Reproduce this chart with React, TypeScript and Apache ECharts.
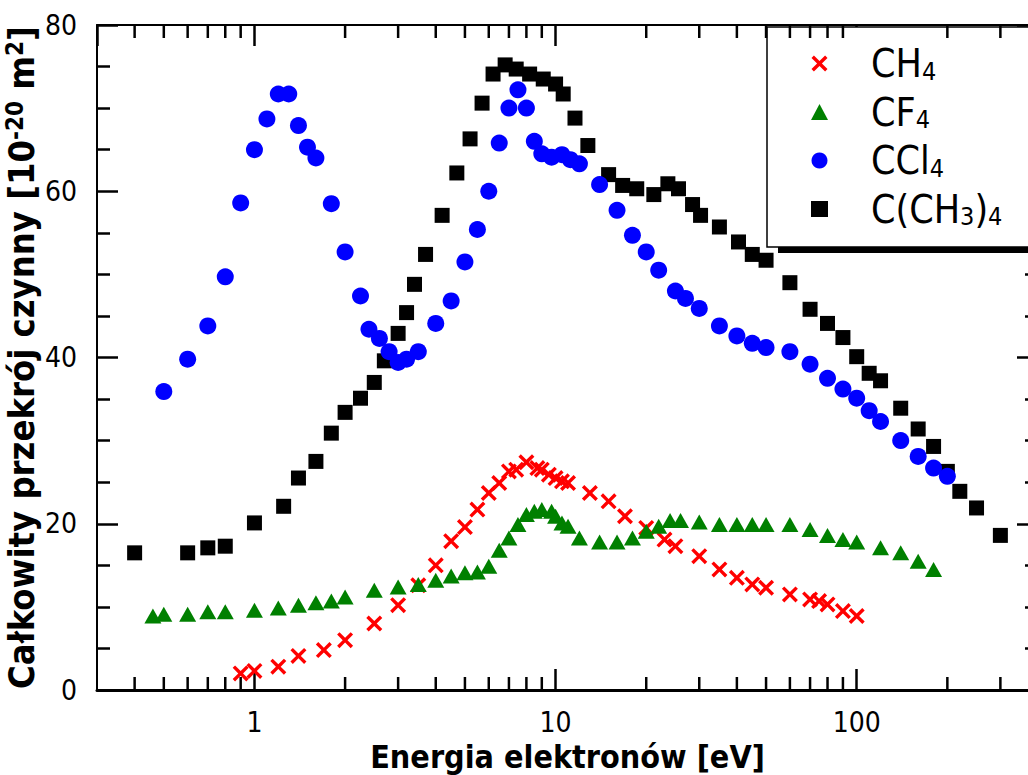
import React, { useEffect, useRef } from 'react';
import * as echarts from 'echarts';

const FONT = "'DejaVu Sans Condensed', 'DejaVu Sans', sans-serif";

// Series names (legend order)
const seriesNames = ['CH4', 'CF4', 'CCl4', 'C(CH3)4'];
const legendRich: Record<string, string> = {
  'CH4': '{p| }{m|CH}{s|4}',
  'CF4': '{p| }{m|CF}{s|4}',
  'CCl4': '{p| }{m|CCl}{s|4}',
  'C(CH3)4': '{p| }{m|C(CH}{s|3}{m|)}{s|4}',
};

// Axis tick values
const xMinorTicks = [0.4, 0.5, 0.6, 0.7, 0.8, 0.9, 2, 3, 4, 5, 6, 7, 8, 9, 20, 30, 40, 50, 60, 70, 80, 90, 200, 300];
const xMajorTicks = [1, 10, 100];
const yBottom = 0;
const yTop = 80;

// CH4
const ch4E = [0.9, 1.0, 1.2, 1.4, 1.7, 2.0, 2.5, 3.0, 3.5, 4.0, 4.5, 5.0, 5.5, 6.0, 6.5, 7.0, 7.4, 8.0, 8.7, 9.0, 9.5, 10, 10.5, 11, 13, 15, 17, 20, 23, 25, 30, 35, 40, 45, 50, 60, 70, 75, 80, 90, 100];
const ch4S = [2.0, 2.3, 2.8, 4.1, 4.8, 6.0, 8.0, 10.2, 12.6, 15.0, 17.9, 19.6, 21.7, 23.7, 24.9, 26.3, 26.5, 27.4, 26.7, 26.5, 25.9, 25.5, 25.1, 24.9, 23.7, 22.7, 20.9, 19.5, 18.1, 17.3, 16.1, 14.5, 13.5, 12.7, 12.3, 11.5, 10.9, 10.7, 10.3, 9.5, 8.9];

// CF4
const cf4E = [0.46, 0.5, 0.6, 0.7, 0.8, 1.0, 1.2, 1.4, 1.6, 1.8, 2.0, 2.5, 3.0, 3.5, 4.0, 4.5, 5.0, 5.5, 6.0, 6.5, 7.0, 7.5, 8.0, 8.5, 9.0, 9.7, 10, 10.5, 11, 12, 14, 16, 18, 20, 22, 24, 26, 30, 35, 40, 45, 50, 60, 70, 80, 90, 100, 120, 140, 160, 180];
const cf4S = [8.9, 9.1, 9.1, 9.4, 9.4, 9.6, 9.85, 10.2, 10.5, 10.7, 11.2, 12.0, 12.4, 12.7, 13.2, 13.7, 14.1, 14.2, 14.9, 16.8, 18.3, 19.9, 21.1, 21.5, 21.7, 21.5, 20.9, 20.1, 19.7, 18.3, 17.8, 17.8, 18.3, 19.1, 19.7, 20.4, 20.4, 20.2, 19.9, 19.9, 19.9, 19.9, 19.9, 19.3, 18.6, 18.1, 17.8, 17.1, 16.5, 15.5, 14.5];

// CCl4
const ccl4E = [0.5, 0.6, 0.7, 0.8, 0.9, 1.0, 1.1, 1.2, 1.3, 1.4, 1.5, 1.6, 1.8, 2.0, 2.25, 2.4, 2.6, 2.8, 3.0, 3.2, 3.5, 4.0, 4.5, 5.0, 5.5, 6.0, 6.5, 7.0, 7.5, 8.0, 8.5, 9.0, 9.7, 10.5, 11.2, 12, 14, 16, 18, 20, 22, 25, 27, 30, 35, 40, 45, 50, 60, 70, 80, 90, 100, 110, 120, 140, 160, 180, 200];
const ccl4S = [35.9, 39.8, 43.8, 49.7, 58.6, 65.0, 68.7, 71.7, 71.7, 67.9, 65.3, 64.0, 58.5, 52.7, 47.4, 43.4, 42.3, 40.7, 39.4, 39.8, 40.7, 44.1, 46.8, 51.5, 55.4, 60.0, 65.8, 70.0, 72.2, 70.0, 66.0, 64.5, 64.1, 64.4, 63.8, 63.3, 60.8, 57.7, 54.7, 52.7, 50.5, 48.0, 47.1, 45.9, 43.8, 42.6, 41.7, 41.2, 40.7, 39.2, 37.5, 36.2, 35.1, 33.6, 32.3, 30.0, 28.1, 26.7, 25.7];

// C(CH3)4
const neoE = [0.4, 0.6, 0.7, 0.8, 1.0, 1.25, 1.4, 1.6, 1.8, 2.0, 2.25, 2.5, 2.7, 3.0, 3.2, 3.4, 3.7, 4.2, 4.7, 5.2, 5.7, 6.2, 6.8, 7.4, 8.2, 9.1, 10.0, 10.6, 11.6, 12.8, 15, 16.7, 18.6, 21.2, 23.6, 25.6, 28.5, 30.3, 35, 40.5, 45, 50, 60, 70, 80, 90, 100, 110, 120, 140, 160, 180, 200, 220, 250, 300];
const neoS = [16.5, 16.5, 17.1, 17.3, 20.1, 22.1, 25.5, 27.5, 30.9, 33.4, 35.1, 37.0, 39.6, 42.9, 45.4, 48.8, 52.4, 57.1, 62.2, 66.3, 70.6, 74.1, 75.2, 74.7, 74.1, 73.5, 72.9, 71.7, 68.8, 65.5, 62.0, 60.7, 60.3, 59.6, 60.9, 60.3, 58.4, 57.1, 55.7, 53.9, 52.4, 51.7, 49.0, 45.8, 44.1, 42.4, 40.1, 38.1, 37.2, 33.9, 31.4, 29.3, 26.3, 23.9, 21.9, 18.6];

const zip = (a: number[], b: number[]) => a.map((v, i) => [v, b[i]]);

const X_SYMBOL = 'path://M0,3L3,0L10,7L17,0L20,3L13,10L20,17L17,20L10,13L3,20L0,17L7,10Z';

export default function App() {
  const ref = useRef<HTMLDivElement>(null);
  useEffect(() => {
    if (!ref.current) return;
    const chart = echarts.init(ref.current, undefined, { renderer: 'svg' });
    const axisLabelStyle = { color: '#000', fontSize: 28, fontFamily: FONT };
    const yTickCommon = {
      axisLine: { show: true, onZero: false, lineStyle: { color: '#000', width: 2 } },
      axisTick: { show: true, inside: true, length: 21, lineStyle: { color: '#000', width: 2.5 } },
      minorTick: { show: true, splitNumber: 4, length: 13, lineStyle: { color: '#000', width: 2.5 } },
      splitLine: { show: false },
      minorSplitLine: { show: false },
    };
    const xCommon = {
      type: 'log', logBase: 10, min: 0.3, max: 400,
      axisTick: { show: true, inside: true, length: 21, lineStyle: { color: '#000', width: 2.5 } },
      minorTick: { show: false },
      splitLine: { show: false },
      minorSplitLine: { show: false },
    };
    const shadowRect = { type: 'rect', z: 3, shape: { x: 778, y: 35, width: 300, height: 218 }, style: { fill: '#000' } };
    chart.setOption({
      animation: false,
      backgroundColor: '#fff',
      grid: {
        left: 97, top: 25, width: 941, bottom: 85,
        show: false,
        containLabel: false, outerBoundsMode: 'none',
      },
      xAxis: [
        {
          ...xCommon,
          position: 'bottom',
          name: 'Energia elektronów [eV]', nameLocation: 'middle', nameGap: 44,
          nameTextStyle: { color: '#000', fontSize: 32, fontWeight: 'bold', fontFamily: FONT },
          axisLine: { show: true, onZero: false, lineStyle: { color: '#000', width: 3 } },
          axisLabel: {
            ...axisLabelStyle, margin: 18, showMinLabel: false, showMaxLabel: false,
            formatter: (v: number) => {
              const l = Math.log10(v);
              return Math.abs(l - Math.round(l)) < 1e-6 && v >= 1 ? String(Math.round(v)) : '';
            },
          },
        },
        {
          ...xCommon,
          position: 'top',
          axisLine: { show: true, onZero: false, lineStyle: { color: '#000', width: 2 } },
          axisLabel: { show: false },
        },
      ],
      yAxis: [
        {
          type: 'value', min: yBottom, max: yTop, interval: 20, position: 'left',
          name: '{b|Całkowity przekrój czynny [10}{sup|-20}{b| m}{sup|2}{b|]}',
          nameLocation: 'middle', nameGap: 58, nameMoveOverlap: false,
          nameTextStyle: {
            color: '#000', fontFamily: FONT, fontWeight: 'bold', fontSize: 36,
            rich: {
              b: { color: '#000', fontFamily: FONT, fontWeight: 'bold', fontSize: 36, lineHeight: 36 },
              sup: { color: '#000', fontFamily: FONT, fontWeight: 'bold', fontSize: 24, lineHeight: 24, verticalAlign: 'top' },
            },
          },
          ...yTickCommon,
          axisLabel: { ...axisLabelStyle, margin: 20 },
        },
        {
          type: 'value', min: yBottom, max: yTop, interval: 20, position: 'right',
          ...yTickCommon,
          axisLabel: { show: false },
        },
      ],
      legend: {
        data: seriesNames,
        orient: 'vertical',
        left: 767, top: 27,
        padding: [17, 30, 18, 44],
        itemGap: 9, itemWidth: 17, itemHeight: 16,
        backgroundColor: '#fff', borderColor: '#000', borderWidth: 1.5,
        selectedMode: false,
        formatter: (n: string) => legendRich[n] || n,
        textStyle: {
          color: '#000', fontFamily: FONT,
          rich: {
            p: { width: 38, fontSize: 10 },
            m: { color: '#000', fontFamily: FONT, fontSize: 39, lineHeight: 40 },
            s: { color: '#000', fontFamily: FONT, fontSize: 25, lineHeight: 25, verticalAlign: 'bottom' },
          },
        },
      },
      graphic: { elements: [shadowRect] },
      series: [
        {
          type: 'scatter', name: 'CH4', data: zip(ch4E, ch4S),
          symbol: X_SYMBOL, symbolSize: 16, itemStyle: { color: '#ff0000', opacity: 1 },
        },
        {
          type: 'scatter', name: 'CF4', data: zip(cf4E, cf4S),
          symbol: 'triangle', symbolSize: [17, 15], itemStyle: { color: '#008000', opacity: 1 },
        },
        {
          type: 'scatter', name: 'C(CH3)4', data: zip(neoE, neoS),
          symbol: 'rect', symbolSize: 15, itemStyle: { color: '#000000', opacity: 1 },
        },
        {
          type: 'scatter', name: 'CCl4', data: zip(ccl4E, ccl4S),
          symbol: 'circle', symbolSize: 17, itemStyle: { color: '#0000ff', opacity: 1 },
        },
      ],
    });

    // x-axis minor ticks (2..9 x 10^n), positioned by the axis scale
    const tickEls: any[] = [];
    try {
      const yb = Number(chart.convertToPixel({ yAxisIndex: 0 }, yBottom));
      const yt = Number(chart.convertToPixel({ yAxisIndex: 0 }, yTop));
      xMinorTicks.forEach((v) => {
        const px = Number(chart.convertToPixel({ xAxisIndex: 0 }, v));
        tickEls.push({ type: 'rect', z: 50, shape: { x: px - 1.25, y: yb - 13, width: 2.5, height: 13 }, style: { fill: '#000000' } });
        tickEls.push({ type: 'rect', z: 50, shape: { x: px - 1.25, y: yt, width: 2.5, height: 13 }, style: { fill: '#000000' } });
      });
    } catch (e) {
      // ignore
    }
    chart.setOption({ graphic: { elements: [shadowRect, ...tickEls] } });

    return () => chart.dispose();
  }, []);
  return (
    <div
      ref={ref}
      style={{ position: 'fixed', left: 0, top: 0, width: 1028, height: 775, background: '#fff' }}
    />
  );
}
